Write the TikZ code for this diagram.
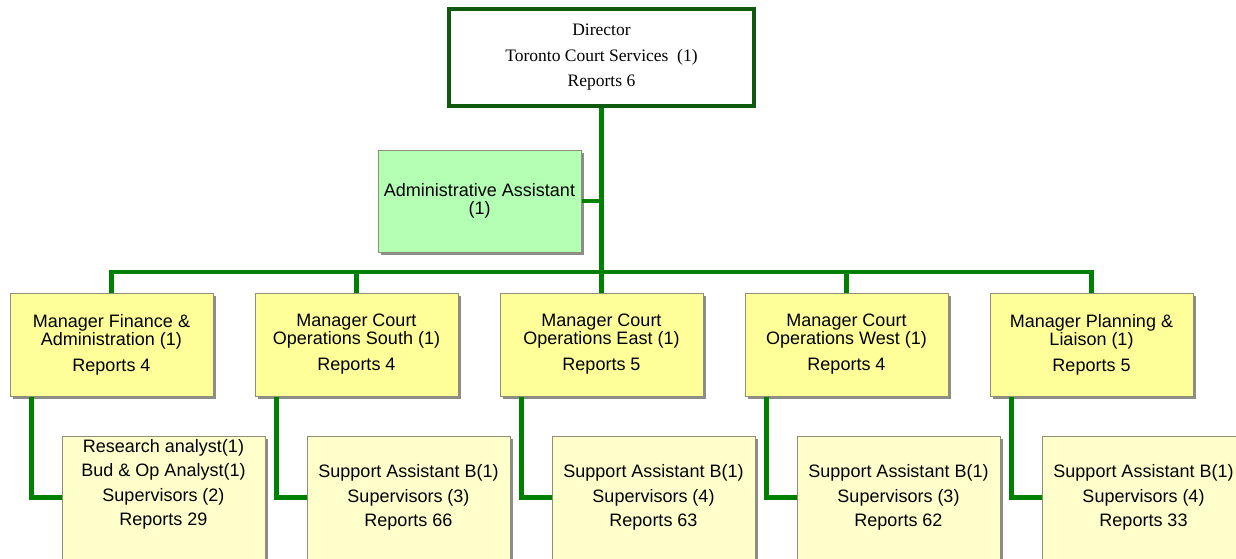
\documentclass[tikz,border=0pt]{standalone}
\usepackage{fontspec}
\setmainfont{Liberation Sans}
\newfontfamily\serifdir{Liberation Serif}
\usetikzlibrary{shadows}
\definecolor{conn}{HTML}{008000}
\definecolor{dirb}{HTML}{0F5A0F}
\definecolor{admfill}{HTML}{B3FFB3}
\definecolor{mgrfill}{HTML}{FFFF99}
\definecolor{subfill}{HTML}{FFFFCC}
\definecolor{boxb}{HTML}{8F8F78}
\tikzset{
  conline/.style={draw=conn, line width=4.2pt},
  dirbox/.style={draw=dirb, line width=3.5pt, fill=white, minimum width=305pt, minimum height=97pt, inner sep=0pt, align=center, font=\serifdir\fontsize{17.5}{25.5}\selectfont},
  shad/.style={drop shadow={shadow xshift=3pt, shadow yshift=-3pt, opacity=1, fill=black!45}},
  admbox/.style={draw=boxb, line width=1pt, fill=admfill, shad, minimum width=203pt, minimum height=102pt, inner sep=0pt, align=center, font=\fontsize{18}{18}\selectfont},
  mgrbox/.style={draw=boxb, line width=1pt, fill=mgrfill, shad, minimum width=203pt, minimum height=103pt, inner sep=0pt, align=center, font=\fontsize{18}{18}\selectfont},
  subbox/.style={draw=boxb, line width=1pt, fill=subfill, shad, minimum width=203pt, minimum height=123pt, inner sep=0pt},
  subtext/.style={inner sep=0pt, align=center, font=\fontsize{18}{24.5}\selectfont},
}
\begin{document}
\begin{tikzpicture}[x=1pt,y=-1pt]
\useasboundingbox (0,0) rectangle (1236,559);
% nodes
\node[dirbox] (dir) at (601.5,57.5) {Director\\Toronto Court Services\ \ (1)\\Reports 6};
\node[admbox] (adm) at (479.5,201) {Administrative Assistant\\(1)};
\coordinate (j) at (601.5,272);
\coordinate (t) at (601.5,201);
% connectors (behind managers)
\draw[conline] (dir.south) -- (j);
\draw[conline] (adm.east) -- (t);
\node[mgrbox] (m1) at (111.5,344.5) {Manager Finance \&\\Administration (1)\\[8pt]Reports 4};
\node[mgrbox] (m2) at (356.5,344.5) {Manager Court\\Operations South (1)\\[8pt]Reports 4};
\node[mgrbox] (m3) at (601.5,344.5) {Manager Court\\Operations East (1)\\[8pt]Reports 5};
\node[mgrbox] (m4) at (846.5,344.5) {Manager Court\\Operations West (1)\\[8pt]Reports 4};
\node[mgrbox] (m5) at (1091.5,344.5) {Manager Planning \&\\Liaison (1)\\[8pt]Reports 5};
\draw[conline] (m1.north) |- (j) -| (m5.north);
\draw[conline] (m2.north) -- (m2.north |- j);
\draw[conline] (m3.north) -- (j);
\draw[conline] (m4.north) -- (m4.north |- j);
% sub boxes
\node[subbox] (s1) at (163.5,497.5) {};
\node[subbox] (s2) at (408.5,497.5) {};
\node[subbox] (s3) at (653.5,497.5) {};
\node[subbox] (s4) at (898.5,497.5) {};
\node[subbox] (s5) at (1143.5,497.5) {};
\node[subtext] (t1) at (163.5,484.5) {Research analyst(1)\\Bud \& Op Analyst(1)\\Supervisors (2)\\Reports 29};
\node[subtext] (t2) at (408.5,497.5) {Support Assistant B(1)\\Supervisors (3)\\Reports 66};
\node[subtext] (t3) at (653.5,497.5) {Support Assistant B(1)\\Supervisors (4)\\Reports 63};
\node[subtext] (t4) at (898.5,497.5) {Support Assistant B(1)\\Supervisors (3)\\Reports 62};
\node[subtext] (t5) at (1143.5,497.5) {Support Assistant B(1)\\Supervisors (4)\\Reports 33};
\foreach \i in {1,...,5}{
  \draw[conline] ([xshift=22pt]m\i.south west) |- (s\i.west);
}
\end{tikzpicture}
\end{document}
